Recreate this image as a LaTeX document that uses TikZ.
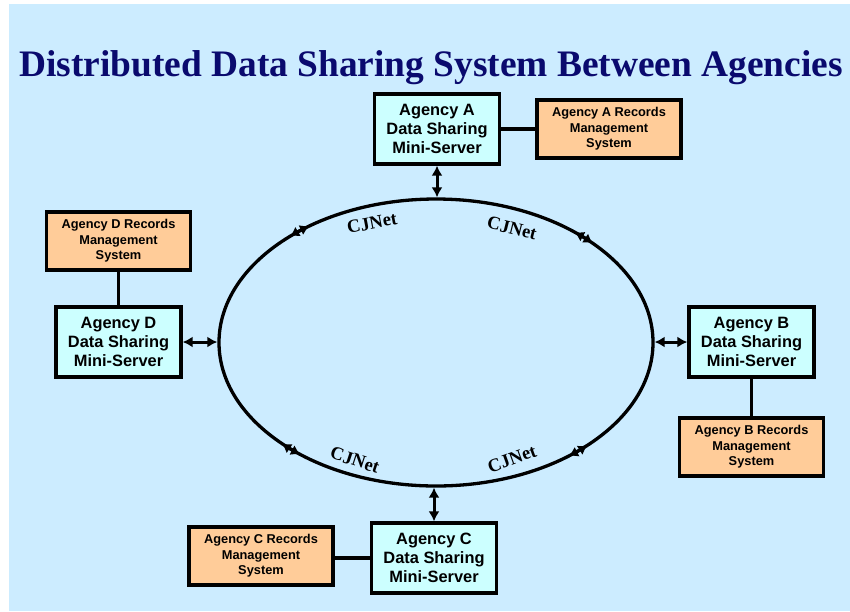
\documentclass[tikz,border=0pt]{standalone}
\usepackage{fontspec}
\setmainfont{Liberation Serif}
\newfontfamily\hv{Liberation Sans}
\usetikzlibrary{arrows.meta,shapes.geometric,calc}
\definecolor{bgblue}{RGB}{204,236,255}
\definecolor{srvfill}{RGB}{204,255,255}
\definecolor{recfill}{RGB}{255,204,153}
\definecolor{navy}{RGB}{10,10,110}
\tikzset{
  server/.style={draw=black, line width=3.3pt, fill=srvfill, minimum width=125pt, minimum height=70pt,
    inner sep=0pt, align=center, font=\hv\bfseries\fontsize{16.4}{19}\selectfont},
  records/.style={draw=black, line width=3.3pt, fill=recfill, minimum width=144pt, minimum height=58pt,
    inner sep=0pt, align=center, font=\hv\bfseries\fontsize{12.8}{15.5}\selectfont},
  link/.style={line width=3.3pt},
  dblarrow/.style={line width=3pt, {Latex[length=10pt,width=11pt]}-{Latex[length=10pt,width=11pt]}},
  smallarr/.style={line width=3pt, {Latex[length=9pt,width=11pt]}-{Latex[length=9pt,width=11pt]}},
  netlabel/.style={font=\bfseries\fontsize{18.5}{20}\selectfont, inner sep=0pt},
}
\begin{document}
\begin{tikzpicture}[x=1pt,y=1pt]
\useasboundingbox (0,0) rectangle (850,-611);
\fill[bgblue] (9,-4) rectangle (850,-611);

\node[font=\bfseries\fontsize{37.4}{40}\selectfont, text=navy, anchor=base, inner sep=0pt] (title) at (431,-76)
  {Distributed Data Sharing System Between Agencies};

\node[ellipse, draw=black, line width=3.3pt, minimum width=434pt, minimum height=287pt, inner sep=0pt] (ring) at (436,-342.5) {};

\node[server] (sA) at (437,-129) {Agency A\\Data Sharing\\Mini-Server};
\node[records] (rA) at (609,-129) {Agency A Records\\Management\\System};
\node[server] (sB) at (751.5,-342) {Agency B\\Data Sharing\\Mini-Server};
\node[records] (rB) at (751.5,-447) {Agency B Records\\Management\\System};
\node[server] (sC) at (434,-558) {Agency C\\Data Sharing\\Mini-Server};
\node[records] (rC) at (261,-556) {Agency C Records\\Management\\System};
\node[server] (sD) at (118.5,-342) {Agency D\\Data Sharing\\Mini-Server};
\node[records] (rD) at (118.5,-241) {Agency D Records\\Management\\System};

\draw[link] (sA.east) -- (rA.west);
\draw[link] (sB.south) -- (rB.north);
\draw[link] (sC.west) -- (sC.west -| rC.east);
\draw[link] (sD.north) -- (rD.south);

\draw[dblarrow] (sA.south |- ring.north) -- (sA.south);
\draw[dblarrow] (sC.north |- ring.south) -- (sC.north);
\draw[dblarrow] (ring.east |- sB.west) -- (sB.west);
\draw[dblarrow] (ring.west |- sD.east) -- (sD.east);

\foreach \t in {129,47,-49,-132}{
  \draw[smallarr] ($(ring.center)+({\t-3.2}:217 and 143.5)$) arc[start angle={\t-3.2}, end angle={\t+3.2}, x radius=217, y radius=143.5];
}

\node[netlabel, rotate=11] (n1) at (372,-223) {CJNet};
\node[netlabel, rotate=-14] (n2) at (512,-228) {CJNet};
\node[netlabel, rotate=-18] (n3) at (355,-460) {CJNet};
\node[netlabel, rotate=20] (n4) at (512,-459) {CJNet};
\end{tikzpicture}
\end{document}
